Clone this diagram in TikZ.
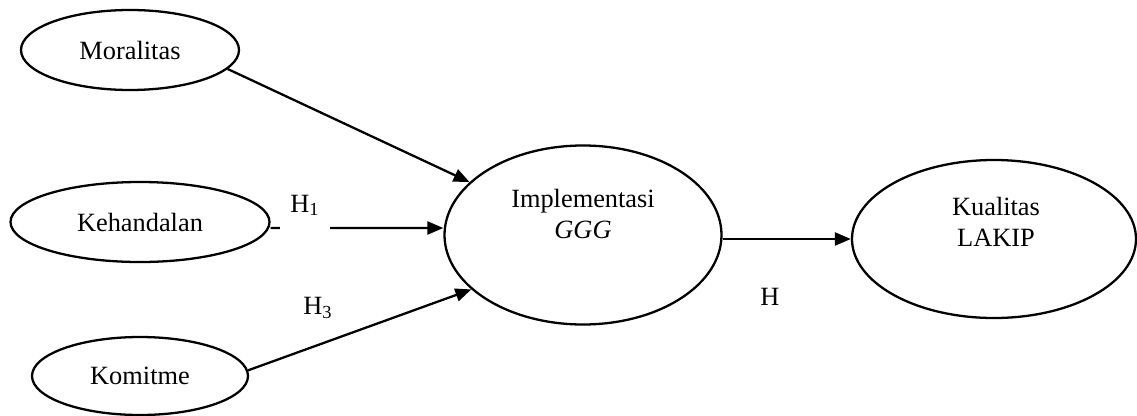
\documentclass[tikz,border=0pt]{standalone}
\usepackage{fontspec}
\setmainfont{Liberation Serif}
\usetikzlibrary{shapes.geometric, arrows.meta}
\tikzset{var/.style={draw, ellipse, line width=1.3pt, inner sep=0pt}}

\begin{document}
\begin{tikzpicture}[font=\fontsize{15}{17.5}\selectfont, link/.style={line width=1.3pt, -{Triangle[length=0.32cm, width=0.26cm]}}]
    \useasboundingbox (0,0) rectangle (22.74,8.30);
    \node[var, minimum width=4.36cm, minimum height=1.6cm] (mor) at (2.60,7.30) {Moralitas};
    \node[var, minimum width=5.18cm, minimum height=1.6cm] (keh) at (2.80,3.86) {Kehandalan};
    \node[var, minimum width=4.32cm, minimum height=1.56cm] (kom) at (2.80,0.78) {Komitme};
    \node[var, minimum width=5.54cm, minimum height=3.58cm] (impl) at (11.66,3.60) {};
    \node[align=center] (impltxt) at (11.66,4.02) {Implementasi\\\textit{GGG}};
    \node[var, minimum width=5.68cm, minimum height=3.16cm] (kua) at (19.88,3.52) {};
    \node[align=center] (kuatxt) at (19.92,3.86) {Kualitas\\LAKIP};
    % Hypothesis paths
    \draw[link] (mor.-11) -- (impl.155);
    \draw[link] ([yshift=-0.12cm]keh.east) -- ([yshift=0.14cm]impl.west);
    \draw[link] (kom.3) -- (impl.206);
    \draw[link] (impl.east |- kua.west) -- (kua.west);
    % Labels
    \node[fill=white, inner sep=0pt, minimum width=1cm, text height=0.4cm, text depth=0.4cm] (h1) at (6.10,4.06) {H\textsubscript{1}};
    \node (h3) at (6.36,2.14) {H\textsubscript{3}};
    \node (h) at (15.40,2.36) {H};
\end{tikzpicture}
\end{document}
